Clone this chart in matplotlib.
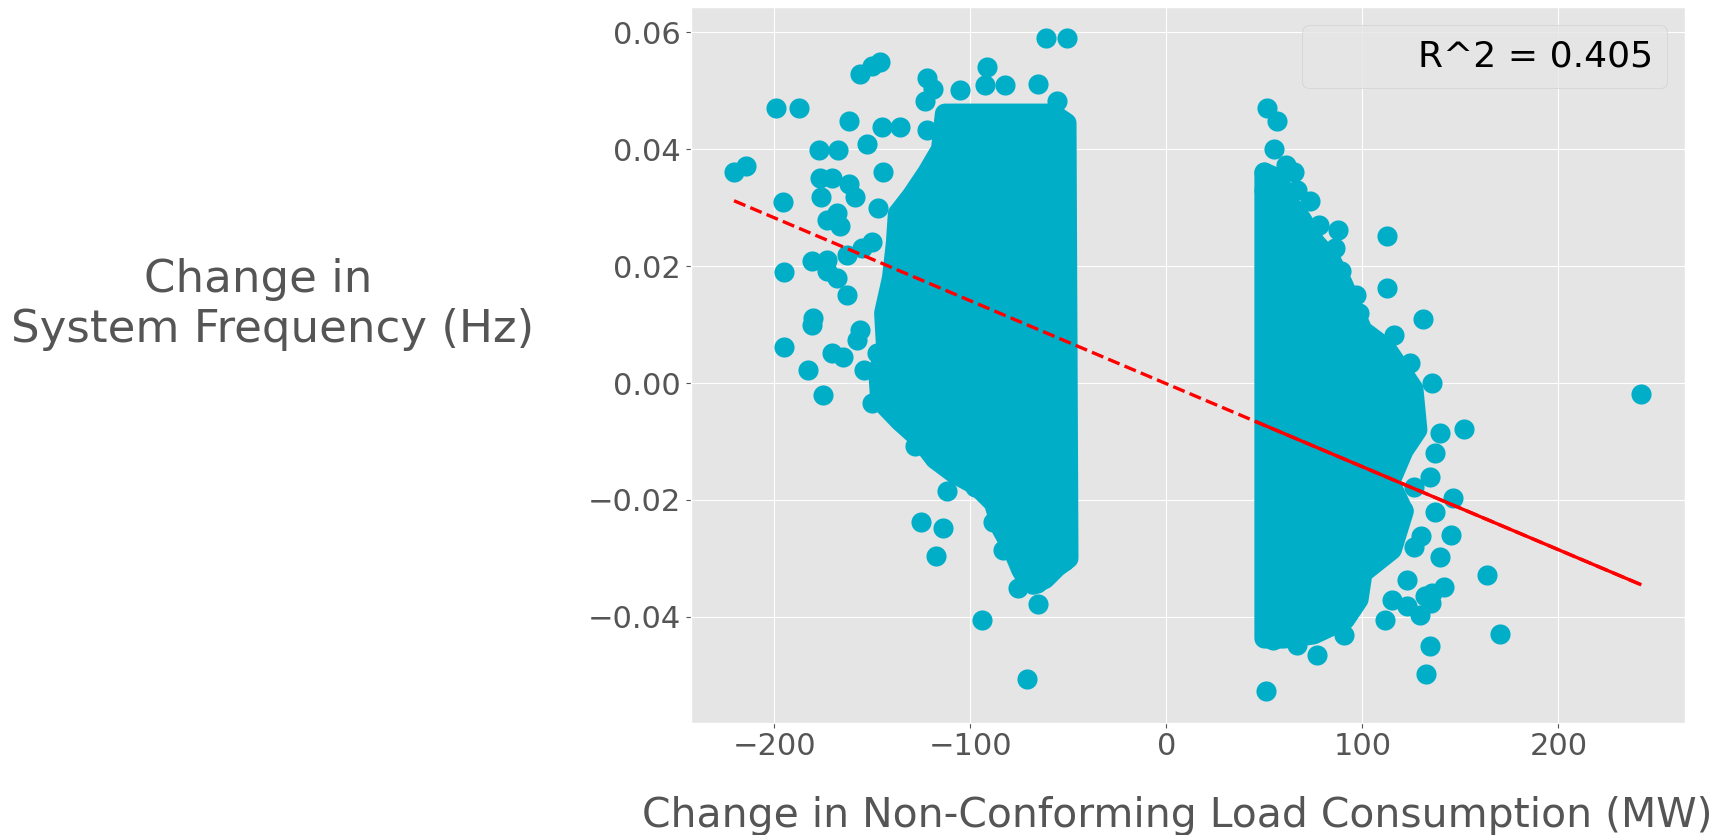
import matplotlib.pyplot as plt
from matplotlib.lines import Line2D
from matplotlib.patches import Polygon
import numpy as np

plt.style.use("ggplot")

# scattered points outside the saturated cores (MW, Hz)
left_x = [-220.6, -214.4, -199.1, -187.7, -195.4, -195.1, -195.1, -156.3, -150.3,
          -146.1, -161.7, -177.0, -167.7, -152.9, -145.2, -135.9, -176.7, -170.7,
          -161.7, -158.8, -176.2, -144.4, -146.9, -173.3, -168.2, -166.5, -150.3,
          -155.4, -163.1, -180.9, -173.3, -173.3, -168.2, -163.1, -180.1, -180.9,
          -156.3, -158.0, -170.7, -164.8, -182.7, -175.0, -147.8, -154.3, -150.3,
          -142.7, -122.3, -123.1, -119.0, -105.3, -91.6, -92.4, -82.3, -65.3,
          -61.4, -50.8, -55.7, -122.3, -128.2, -112.0, -125.3, -113.8, -117.5,
          -94.2, -71.2, -97.6, -88.3, -83.5, -75.5, -65.3, -52.5, -66.1, -73.0]
left_y = [0.0362, 0.0372, 0.0470, 0.0470, 0.0310, 0.0190, 0.0062, 0.0529, 0.0542,
          0.0550, 0.0448, 0.0399, 0.0399, 0.0409, 0.0439, 0.0439, 0.0351, 0.0351,
          0.0340, 0.0319, 0.0319, 0.0361, 0.0299, 0.0279, 0.0291, 0.0269, 0.0242,
          0.0231, 0.0220, 0.0209, 0.0210, 0.0191, 0.0180, 0.0151, 0.0111, 0.0100,
          0.0091, 0.0074, 0.0051, 0.0044, 0.0023, -0.0020, 0.0051, 0.0023, -0.0034,
          -0.0033, 0.0522, 0.0482, 0.0503, 0.0502, 0.0540, 0.0510, 0.0510, 0.0511,
          0.0591, 0.0591, 0.0482, 0.0433, -0.0108, -0.0185, -0.0238, -0.0248, -0.0295,
          -0.0406, -0.0506, -0.0177, -0.0237, -0.0286, -0.0351, -0.0378, -0.0305,
          -0.0342, -0.0325]

right_x = [51.5, 56.2, 54.7, 49.7, 60.9, 65.2, 49.7, 66.5, 73.1, 77.8, 87.5, 86.2,
           112.3, 112.3, 130.7, 89.0, 96.5, 98.3, 116.1, 124.5, 135.4, 151.6, 139.5,
           137.0, 134.5, 146.0, 137.0, 145.1, 139.5, 163.4, 141.4, 134.8, 129.2,
           111.4, 170.4, 134.4, 132.4, 51.0, 90.8, 76.8, 66.5, 54.3, 126.4, 120.8,
           130.1, 126.4, 122.7, 115.2, 122.7, 131.9, 135.7, 242.0]
right_y = [0.0470, 0.0448, 0.0401, 0.0362, 0.0373, 0.0361, 0.0330, 0.0331, 0.0311,
           0.0271, 0.0262, 0.0231, 0.0252, 0.0162, 0.0110, 0.0191, 0.0151, 0.0120,
           0.0083, 0.0034, 0.0000, -0.0079, -0.0086, -0.0120, -0.0160, -0.0197,
           -0.0220, -0.0260, -0.0297, -0.0329, -0.0348, -0.0376, -0.0396, -0.0405,
           -0.0429, -0.0449, -0.0497, -0.0527, -0.0431, -0.0465, -0.0448, -0.0439,
           -0.0177, -0.0217, -0.0262, -0.0280, -0.0337, -0.0371, -0.0382, -0.0365,
           -0.0359, -0.0019]

# outline of the saturated cores (centres of the outermost markers)
left_core_x = [-113, -58, -51, -50, -56, -62, -68, -74, -79, -84, -88, -97, -108,
               -118, -126, -136, -146, -147, -143, -144, -140, -138, -137, -130,
               -122, -115]
left_core_y = [0.0461, 0.0461, 0.0445, -0.030, -0.0315, -0.0335, -0.0345, -0.032,
               -0.028, -0.025, -0.0205, -0.0175, -0.0155, -0.013, -0.0095, -0.0065,
               -0.003, 0.002, 0.006, 0.012, 0.018, 0.024, 0.029, 0.032, 0.036, 0.040]

right_core_x = [50, 57, 62, 69, 76, 84, 90, 95, 100, 112, 118, 126, 128, 121, 114,
                121, 115, 100, 98, 91, 75, 60, 50]
right_core_y = [0.036, 0.035, 0.031, 0.028, 0.024, 0.021, 0.017, 0.013, 0.009,
                0.006, 0.003, -0.001, -0.008, -0.0115, -0.017, -0.022, -0.0285,
                -0.0325, -0.037, -0.0405, -0.043, -0.0437, -0.0437]

# regression line end points and where the solid part starts
fit_x = [-220.6, 241.5]
fit_y = [0.0312, -0.0344]
solid_from = 46.0
r_squared = 0.405

point_color = "#00AEC8"
marker_s = 210  # pt^2

fig = plt.figure(figsize=(17.25, 8.35), dpi=100)
ax = fig.add_axes([0.4004, 0.1345, 0.5767, 0.8568])

for cx, cy in [(left_core_x, left_core_y), (right_core_x, right_core_y)]:
    core = Polygon(np.column_stack([cx, cy]), closed=True, facecolor=point_color,
                   edgecolor=point_color, linewidth=np.sqrt(marker_s),
                   joinstyle="round", zorder=2)
    ax.add_patch(core)

ax.scatter(left_x + right_x, left_y + right_y, s=marker_s, color=point_color,
           linewidths=0, zorder=2)

ax.plot(fit_x, fit_y, color="red", linestyle="--", linewidth=2.4, zorder=3)
ax.plot([solid_from, fit_x[1]], [np.interp(solid_from, fit_x, fit_y), fit_y[1]],
        color="red", linewidth=2.4, zorder=3)

ax.set_xlim(-242.7, 264.8)
ax.set_ylim(-0.0581, 0.0643)
ax.set_xticks([-200, -100, 0, 100, 200])
ax.set_yticks([-0.04, -0.02, 0.0, 0.02, 0.04, 0.06])
ax.tick_params(labelsize=22)

ax.set_xlabel("Change in Non-Conforming Load Consumption (MW)", fontsize=29.4,
              labelpad=25)
ax.xaxis.label.set_x(0.489)
ax.set_ylabel("Change in  \nSystem Frequency (Hz)", fontsize=32.5, rotation=0,
              ha="center", va="center")
ax.yaxis.set_label_coords(-0.42, 0.584)

blank = Line2D([], [], linestyle="none")
ax.legend([blank], [f"R^2 = {r_squared}"], loc="upper right", fontsize=26)

fig.savefig("out.png", dpi=100)
